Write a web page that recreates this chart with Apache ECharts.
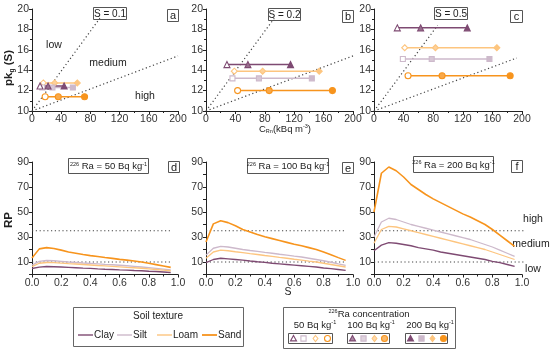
<!DOCTYPE html>
<html><head><meta charset="utf-8">
<script src="https://cdn.jsdelivr.net/npm/echarts@6/dist/echarts.min.js"></script>
<style>html,body{margin:0;padding:0;background:#fff}#c{width:550px;height:350px}</style>
</head><body><div id="c"></div>
<script>
// ---------- data ----------
const textures = ['Clay', 'Silt', 'Loam', 'Sand'];
const sLabels = ['S = 0.1', 'S = 0.2', 'S = 0.5'];
const raTitles = ['50', '100', '200'];

// top panels: pk_g(S) row value per texture, C_Rn (kBq m-3) for 50/100/200 Bq/kg
const pkA = [12.45, 12.3, 12.75, 11.4];
const cRnA = [[11, 22, 44], [14, 28, 56], [15.5, 31, 62], [18, 36, 72]];
const pkB = [14.55, 13.2, 13.9, 12.0];
const cRnB = [[28.5, 57, 115], [36, 72, 144], [38.5, 77, 154], [43, 86, 172]];
const pkC = [18.15, 15.1, 16.2, 13.45];
const cRnC = [[31.5, 63, 126], [39, 78, 156], [41.5, 83, 166], [46, 92, 184]];
// boundary (dotted) lines low/medium/high
const steepAB = [[0, 10], [93, 19.1]];
const shallowAB = [[0, 10], [200, 15.4]];
const steepC = [[0, 10], [86, 18.4]];
const shallowC = [[0, 10], [193, 15.2]];

// bottom panels: RP vs S
const sVals = [0, 0.05, 0.1, 0.15, 0.2, 0.25, 0.3, 0.35, 0.4, 0.45, 0.5, 0.55, 0.6, 0.65, 0.7, 0.75, 0.8, 0.85, 0.9, 0.95];
const clayD = [4.8, 5.9, 6.4, 6.2, 6, 5.7, 5.4, 5.1, 4.9, 4.5, 4.2, 4, 3.7, 3.5, 3.2, 3, 2.6, 2.4, 2, 1.6];
const siltD = [7.5, 10.5, 11.2, 11, 10.5, 10, 9.6, 9.2, 8.9, 8.5, 8.1, 7.8, 7.4, 7, 6.5, 6, 5.5, 4.9, 4.3, 3.6];
const loamD = [6.3, 9, 9.6, 9.5, 9.1, 8.7, 8.4, 8, 7.6, 7.2, 6.9, 6.5, 6.1, 5.7, 5.4, 5, 4.5, 4, 3.5, 3];
const sandD = [13.2, 20.5, 21.5, 20.8, 19.5, 18, 17, 16, 15.1, 14.4, 13.6, 12.9, 12.1, 11.5, 10.8, 10, 9, 7.9, 6.8, 5.7];
const clayE = [9.5, 12, 13, 12.5, 12, 11.5, 10.8, 10.2, 9.7, 9, 8.5, 8, 7.5, 7, 6.5, 6, 5.2, 4.7, 4, 3.3];
const siltE = [15.5, 21, 22.5, 22, 21, 20, 19.2, 18.5, 17.7, 17, 16.2, 15.5, 14.7, 14, 13, 12, 11, 9.8, 8.5, 7.3];
const loamE = [13, 18, 19.5, 19, 18.2, 17.5, 16.7, 16, 15.2, 14.5, 13.7, 13, 12.2, 11.5, 10.7, 10, 9, 8, 7, 6];
const sandE = [26, 40.5, 43, 41.5, 39, 36, 34, 32, 30.2, 28.7, 27.2, 25.7, 24.2, 23, 21.5, 20, 18, 15.8, 13.5, 11.3];
const clayF = [19, 23.5, 25.5, 25, 24, 23, 21.5, 20.5, 19.5, 18, 17, 16, 15, 14, 13, 12, 10.5, 9.5, 8, 6.5];
const siltF = [30, 42, 45, 44, 42, 40, 38.5, 37, 35.5, 34, 32.5, 31, 29.5, 28, 26, 24, 22, 19.5, 17, 14.5];
const loamF = [25, 36, 38.5, 38, 36.5, 35, 33.5, 32, 30.5, 29, 27.5, 26, 24.5, 23, 21.5, 20, 18, 16, 14, 12];
const sandF = [50, 81, 86, 83, 78, 72, 68, 64, 60.5, 57.5, 54.5, 51.5, 48.5, 46, 43, 40, 36, 31.5, 27, 22.5];
const rpHigh = 35, rpLow = 10;
const thresholdEnds = [0.945, 0.95, 1.12];

// ---------- styles ----------
const FONT = '"Liberation Sans", Arial, sans-serif';
const colors = ['#7e4a72', '#cdb9cb', '#fdc57f', '#f7941d'];
const symbols = ['triangle', 'rect', 'diamond', 'circle'];
const lefts = [32, 206, 374];
const widths = [146, 147, 148];

const grids = [], xAxes = [], yAxes = [], series = [];
const axisCommon = {
  axisLine: {lineStyle: {color: '#222', width: 1}},
  axisTick: {length: 3, lineStyle: {color: '#222'}},
  minorTick: {show: true, splitNumber: 2, length: 2, lineStyle: {color: '#222'}},
  splitLine: {show: false},
  axisLabel: {fontSize: 10.5, color: '#333', fontFamily: FONT, margin: 3}
};
for (let i = 0; i < 3; i++) grids.push({left: lefts[i], width: widths[i], top: 9, height: 102});
for (let i = 0; i < 3; i++) grids.push({left: lefts[i], width: widths[i], top: 162, height: 112.5});
for (let i = 0; i < 3; i++) {
  xAxes.push(Object.assign({gridIndex: i, type: 'value', min: 0, max: 200, interval: 40}, axisCommon));
  yAxes.push(Object.assign({gridIndex: i, type: 'value', min: 10, max: 20, interval: 2}, axisCommon));
}
for (let i = 0; i < 3; i++) {
  xAxes.push(Object.assign({}, axisCommon, {gridIndex: 3 + i, type: 'value', min: 0, max: 1, interval: 0.2,
    axisLabel: Object.assign({}, axisCommon.axisLabel, {formatter: v => v.toFixed(1)})}));
  yAxes.push(Object.assign({}, axisCommon, {gridIndex: 3 + i, type: 'value', min: 0, max: 90, interval: 10,
    minorTick: {show: false},
    axisLabel: Object.assign({}, axisCommon.axisLabel, {formatter: v => ((v / 10) % 2 === 1 ? String(v) : '')})}));
}

const dotted = {color: '#444', width: 1.2, type: [1.2, 2.6]};
function refLine(idx, data, clip) {
  series.push({type: 'line', xAxisIndex: idx, yAxisIndex: idx, data: data, symbol: 'none', silent: true,
    lineStyle: dotted, clip: clip !== false, z: 1});
}
refLine(0, steepAB); refLine(0, shallowAB);
refLine(1, steepAB); refLine(1, shallowAB);
refLine(2, steepC); refLine(2, shallowC);

function lighten(hex, f) {
  const n = parseInt(hex.slice(1), 16);
  const r = n >> 16, g = (n >> 8) & 255, b = n & 255;
  const m = c => Math.round(c + (255 - c) * f);
  return `rgb(${m(r)},${m(g)},${m(b)})`;
}
const topSets = [[pkA, cRnA], [pkB, cRnB], [pkC, cRnC]];
topSets.forEach(([pk, cRn], p) => {
  [3, 2, 1, 0].forEach(t => {
    const col = colors[t];
    series.push({
      type: 'line', xAxisIndex: p, yAxisIndex: p, name: textures[t], z: 3,
      lineStyle: {color: col, width: 1.5},
      symbolSize: t === 1 ? 5 : 6,
      data: cRn[t].map((x, k) => ({
        value: [x, pk[t]],
        symbol: symbols[t],
        itemStyle: {
          color: k === 0 ? '#fff' : (k === 1 ? lighten(col, 0.2) : col),
          borderColor: col, borderWidth: 1.1
        }
      }))
    });
  });
});

const bottomSets = [[clayD, siltD, loamD, sandD], [clayE, siltE, loamE, sandE], [clayF, siltF, loamF, sandF]];
bottomSets.forEach((sets, p) => {
  const idx = 3 + p;
  refLine(idx, [[0, rpHigh], [thresholdEnds[p], rpHigh]], p !== 2);
  refLine(idx, [[0, rpLow], [thresholdEnds[p], rpLow]], p !== 2);
  sets.forEach((arr, t) => {
    series.push({
      type: 'line', xAxisIndex: idx, yAxisIndex: idx, name: textures[t], symbol: 'none', z: 3,
      lineStyle: {color: colors[t], width: t === 3 ? 1.6 : 1.3},
      data: sVals.map((s, k) => [s, arr[k]])
    });
  });
});

// ---------- annotations ----------
const g = [];
function txt(x, y, text, opt) {
  g.push({type: 'text', x: x, y: y, silent: true,
    style: Object.assign({text: text, font: `10.5px ${FONT}`, fill: '#222', align: 'center', verticalAlign: 'middle'}, opt || {})});
}
function box(x, y, w, h, stroke) {
  g.push({type: 'rect', shape: {x: x + 0.5, y: y + 0.5, width: w, height: h}, silent: true,
    style: {fill: 'none', stroke: stroke || '#555', lineWidth: 1}});
}
const supRich = {sup: {fontSize: 5.5, fill: '#222', fontFamily: FONT, padding: [0, 0, 5, 0]},
  n: {fontSize: 9.5, fill: '#222', fontFamily: FONT}};

const sBox = [[93, 7, 33, 12], [268, 8, 32, 12], [434, 7, 33, 12]];
const letterBoxTop = [[167, 9, 11, 12], [342, 10, 11, 12], [510, 10, 12, 12]];
const lettersTop = ['a', 'b', 'c'];
for (let i = 0; i < 3; i++) {
  const b = sBox[i];
  box(b[0], b[1], b[2], b[3]);
  txt(b[0] + b[2] / 2 + 0.5, b[1] + b[3] / 2 + 1, sLabels[i], {font: `10px ${FONT}`});
  const l = letterBoxTop[i];
  box(l[0], l[1], l[2], l[3]);
  txt(l[0] + l[2] / 2 + 0.5, l[1] + l[3] / 2 + 1, lettersTop[i], {font: `11px ${FONT}`});
}
const raBox = [[68, 158, 80, 15], [247, 158, 81, 15], [413, 156, 80, 16]];
const letterBoxBot = [[168, 161, 11, 11], [342, 162, 11, 11], [511, 160, 11, 12]];
const lettersBot = ['d', 'e', 'f'];
for (let i = 0; i < 3; i++) {
  const b = raBox[i];
  box(b[0], b[1], b[2], b[3]);
  g.push({type: 'text', x: b[0] + b[2] / 2 + 0.5, y: b[1] + b[3] / 2 + 1, silent: true,
    style: {text: `{sup|226}{n| Ra = ${raTitles[i]} Bq kg}{sup|-1}`, rich: supRich, align: 'center', verticalAlign: 'middle'}});
  const l = letterBoxBot[i];
  box(l[0], l[1], l[2], l[3]);
  txt(l[0] + l[2] / 2 + 0.5, l[1] + l[3] / 2 + 1, lettersBot[i], {font: `11px ${FONT}`});
}
txt(54, 45, 'low'); txt(108, 63, 'medium'); txt(145, 96, 'high');
txt(533, 219, 'high'); txt(531, 244, 'medium'); txt(533, 269, 'low');

g.push({type: 'text', x: 9, y: 68, rotation: Math.PI / 2, silent: true,
  style: {text: '{b|pk}{s|g}{b| (S)}', align: 'center', verticalAlign: 'middle',
    rich: {b: {fontSize: 11.5, fontWeight: 'bold', fontFamily: FONT, fill: '#222'},
      s: {fontSize: 6.5, fontWeight: 'bold', fontFamily: FONT, fill: '#222', padding: [6, 0, 0, 0]}}}});
g.push({type: 'text', x: 9, y: 220, rotation: Math.PI / 2, silent: true,
  style: {text: 'RP', font: `bold 11.5px ${FONT}`, fill: '#222', align: 'center', verticalAlign: 'middle'}});
g.push({type: 'text', x: 285, y: 129, silent: true,
  style: {text: '{n|C}{s|Rn}{n|(kBq m}{u|-3}{n|)}', align: 'center', verticalAlign: 'middle',
    rich: {n: {fontSize: 9.5, fontFamily: FONT, fill: '#222'},
      s: {fontSize: 5.5, fontFamily: FONT, fill: '#222', padding: [5, 0, 0, 0]},
      u: {fontSize: 5.5, fontFamily: FONT, fill: '#222', padding: [0, 0, 5, 0]}}}});
txt(288, 292, 'S', {font: `10.5px ${FONT}`});

box(73, 307, 170, 39, '#666');
txt(158, 316, 'Soil texture', {font: `10px ${FONT}`});
const legX = [78, 117, 157, 202];
textures.forEach((name, t) => {
  g.push({type: 'line', silent: true, shape: {x1: legX[t], y1: 335, x2: legX[t] + 15, y2: 335},
    style: {stroke: colors[t], lineWidth: t === 3 ? 1.8 : 1.4}});
  txt(legX[t] + 16, 335, name, {align: 'left', font: `10px ${FONT}`});
});
box(283, 307, 172, 41, '#666');
g.push({type: 'text', x: 369, y: 314, silent: true,
  style: {text: '{sup|226}{n|Ra concentration}', rich: supRich, align: 'center', verticalAlign: 'middle'}});
const subX = [315, 371, 430];
const subBox = [[288, 333, 44, 10], [347, 333, 42, 10], [405, 333, 42, 10]];
const mk = [[293, 303, 315, 327], [352, 363, 374, 384], [410, 421, 432, 443]];
function marker(shape, cx, cy, fill, stroke) {
  const r = 3;
  const st = {fill: fill, stroke: stroke, lineWidth: 1.1};
  if (shape === 'triangle') g.push({type: 'polygon', silent: true, shape: {points: [[cx, cy - r], [cx + r, cy + r * 0.8], [cx - r, cy + r * 0.8]]}, style: st});
  else if (shape === 'rect') g.push({type: 'rect', silent: true, shape: {x: cx - 2.6, y: cy - 2.6, width: 5.2, height: 5.2}, style: st});
  else if (shape === 'diamond') g.push({type: 'polygon', silent: true, shape: {points: [[cx, cy - r], [cx + r * 0.8, cy], [cx, cy + r], [cx - r * 0.8, cy]]}, style: st});
  else g.push({type: 'circle', silent: true, shape: {cx: cx, cy: cy, r: 3}, style: st});
}
for (let k = 0; k < 3; k++) {
  g.push({type: 'text', x: subX[k], y: 325, silent: true,
    style: {text: `{n|${raTitles[k]} Bq kg}{sup|-1}`, rich: supRich, align: 'center', verticalAlign: 'middle'}});
  const b = subBox[k];
  box(b[0], b[1], b[2], b[3], '#555');
  for (let t = 0; t < 4; t++) {
    const col = colors[t];
    marker(symbols[t], mk[k][t] + 0.5, 338.5, k === 0 ? '#fff' : (k === 1 ? lighten(col, 0.35) : col), col);
  }
}

const chart = echarts.init(document.getElementById('c'), null, {renderer: 'canvas'});
chart.setOption({
  animation: false,
  backgroundColor: '#fff',
  textStyle: {fontFamily: FONT},
  grid: grids, xAxis: xAxes, yAxis: yAxes, series: series, graphic: g
});
</script>
</body></html>
